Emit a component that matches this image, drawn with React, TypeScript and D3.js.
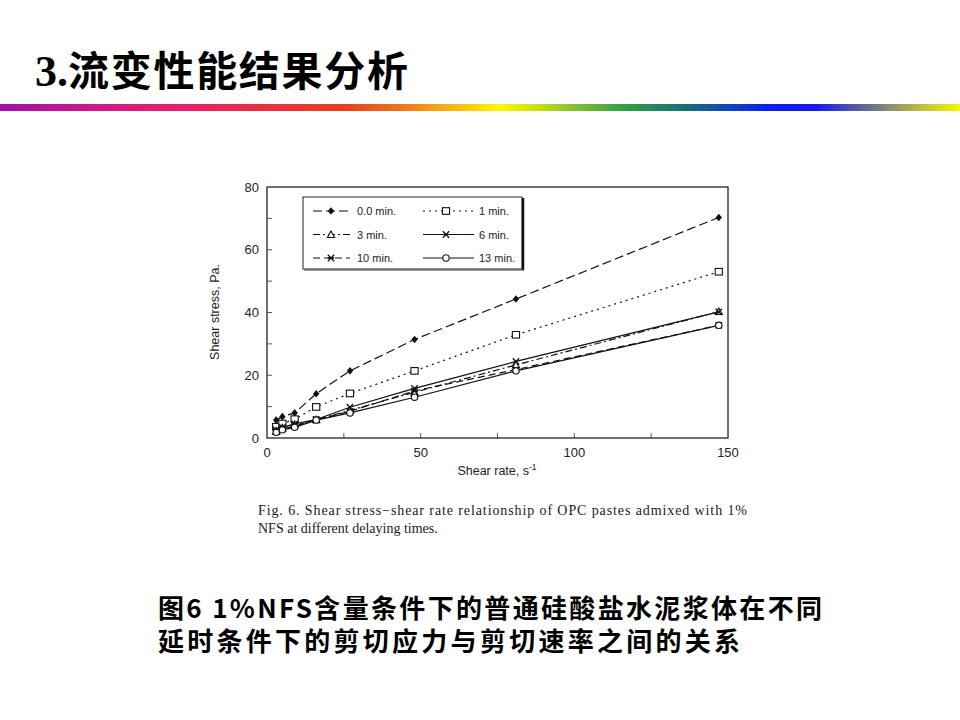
import React from "react";
import * as d3 from "d3";

const shearRate = [3, 5, 9, 16, 27, 48, 81, 147];
const min0 = [5.7, 6.8, 8.0, 14.1, 21.4, 31.4, 44.3, 70.3];
const min1 = [3.6, 4.6, 6.0, 9.9, 14.2, 21.4, 32.9, 53.0];
const min3 = [2.2, 3.2, 4.3, 5.8, 8.8, 14.6, 23.3, 40.3];
const min6 = [2.6, 3.4, 4.5, 5.9, 9.8, 15.8, 24.4, 40.2];
const min10 = [2.0, 2.9, 3.8, 5.8, 8.5, 15.0, 21.8, 35.9];
const min13 = [1.8, 2.6, 3.4, 5.7, 8.0, 13.0, 21.4, 35.9];
const seriesNames = ["0.0 min.", "1 min.", "3 min.", "6 min.", "10 min.", "13 min."];
const xTicks = [0, 50, 100, 150];
const xMinorTicks = [25, 50, 75, 100, 125];
const yTicks = [0, 20, 40, 60, 80];
const yMinorTicks = [10, 20, 30, 40, 50, 60, 70];

const W = 960;
const H = 720;
const plot = { left: 267, right: 728, top: 187, bottom: 438 };

const styles = [
  { dash: "9,4", marker: "diamond" },
  { dash: "2,4", marker: "square" },
  { dash: "7,3,2,3", marker: "triangle" },
  { dash: "", marker: "x" },
  { dash: "7,4", marker: "star" },
  { dash: "", marker: "circle" },
];

function Marker({ type, x, y }: { type: string; x: number; y: number }) {
  const s = 3.2;
  switch (type) {
    case "diamond":
      return <path d={`M${x},${y - 3.8}L${x + 3.2},${y}L${x},${y + 3.8}L${x - 3.2},${y}Z`} fill="#111" />;
    case "square":
      return <rect x={x - 3.6} y={y - 3.3} width={7.2} height={6.6} fill="#fff" stroke="#111" strokeWidth={1.1} />;
    case "triangle":
      return <path d={`M${x},${y - 3.6}L${x + 3.6},${y + 3}L${x - 3.6},${y + 3}Z`} fill="#fff" stroke="#111" strokeWidth={1.1} />;
    case "x":
      return <path d={`M${x - s},${y - s}L${x + s},${y + s}M${x - s},${y + s}L${x + s},${y - s}`} stroke="#111" strokeWidth={1.3} />;
    case "star":
      return (
        <g stroke="#111" strokeWidth={1.3}>
          <path d={`M${x - s},${y - s}L${x + s},${y + s}M${x - s},${y + s}L${x + s},${y - s}M${x - s},${y}L${x + s},${y}`} />
        </g>
      );
    case "circle":
      return <circle cx={x} cy={y} r={3.2} fill="#fff" stroke="#111" strokeWidth={1.1} />;
  }
  return null;
}

export default function App() {
  const x = d3.scaleLinear().domain([0, 150]).range([plot.left, plot.right]);
  const y = d3.scaleLinear().domain([0, 80]).range([plot.bottom, plot.top]);
  const all = [min0, min1, min3, min6, min10, min13];
  const line = d3
    .line<number>()
    .x((_, i) => x(shearRate[i]))
    .y((d) => y(d));

  const gradStops = [
    [0, "#a010a8"],
    [0.1, "#d01888"],
    [0.2, "#e82068"],
    [0.28, "#e83040"],
    [0.36, "#e84020"],
    [0.42, "#f07818"],
    [0.48, "#f8c010"],
    [0.52, "#f8f800"],
    [0.56, "#c8e010"],
    [0.6, "#80c030"],
    [0.65, "#30a040"],
    [0.72, "#186880"],
    [0.8, "#0c20f0"],
    [0.85, "#1818f0"],
    [0.9, "#606890"],
    [0.95, "#b0b050"],
    [1, "#f8f800"],
  ];

  const legendItems = seriesNames.map((name, i) => {
    const col = i % 2;
    const row = Math.floor(i / 2);
    return { name, i, col, row };
  });

  return (
    <svg width={W} height={H} style={{ position: "absolute", left: 0, top: 0, display: "block", background: "#fff" }}>
      <defs>
        <linearGradient id="bar" x1="0" x2="1" y1="0" y2="0">
          {gradStops.map(([o, c], i) => (
            <stop key={i} offset={o as number} stopColor={c as string} />
          ))}
        </linearGradient>
      </defs>
      <rect width={W} height={H} fill="#fff" />
      {/* title */}
      <text x={35} y={86} fontFamily="'Liberation Serif', serif" fontWeight="bold" fontSize={44} fill="#000">
        3.
      </text>
      <text
        x={68}
        y={86}
        fontFamily="'Noto Sans CJK SC', sans-serif"
        fontWeight="bold"
        fontSize={41}
        fill="#000"
        textLength={340}
        lengthAdjust="spacing"
      >
        流变性能结果分析
      </text>
      <rect x={0} y={104} width={W} height={7} fill="url(#bar)" />

      {/* plot frame */}
      <rect
        x={plot.left}
        y={plot.top}
        width={plot.right - plot.left}
        height={plot.bottom - plot.top}
        fill="none"
        stroke="#111"
        strokeWidth={1.2}
      />
      {yMinorTicks.map((t) => (
        <line key={"ym" + t} x1={plot.left} x2={plot.left + 5} y1={y(t)} y2={y(t)} stroke="#333" strokeWidth={0.8} />
      ))}
      {xMinorTicks.map((t) => (
        <line key={"xm" + t} x1={x(t)} x2={x(t)} y1={plot.bottom} y2={plot.bottom - 5} stroke="#333" strokeWidth={0.8} />
      ))}
      {yTicks.map((t) => (
        <text
          key={"yt" + t}
          x={plot.left - 8}
          y={y(t) + 4.5}
          textAnchor="end"
          fontFamily="'Liberation Sans', Arial, sans-serif"
          fontSize={13}
          fill="#222"
        >
          {t}
        </text>
      ))}
      {xTicks.map((t) => (
        <text
          key={"xt" + t}
          x={x(t)}
          y={457}
          textAnchor="middle"
          fontFamily="'Liberation Sans', Arial, sans-serif"
          fontSize={13}
          fill="#222"
        >
          {t}
        </text>
      ))}
      <text
        x={497}
        y={475}
        textAnchor="middle"
        fontFamily="'Liberation Sans', Arial, sans-serif"
        fontSize={12.5}
        fill="#222"
      >
        Shear rate, s
        <tspan fontSize={8.5} dy={-5}>
          -1
        </tspan>
      </text>
      <text
        transform={`translate(219,312) rotate(-90)`}
        textAnchor="middle"
        fontFamily="'Liberation Sans', Arial, sans-serif"
        fontSize={12.5}
        fill="#222"
      >
        Shear stress, Pa.
      </text>

      {/* series */}
      {all.map((vals, si) => (
        <g key={"s" + si}>
          <path d={line(vals) || ""} fill="none" stroke="#111" strokeWidth={1.2} strokeDasharray={styles[si].dash} />
          {vals.map((v, i) => (
            <Marker key={i} type={styles[si].marker} x={x(shearRate[i])} y={y(v)} />
          ))}
        </g>
      ))}

      {/* legend */}
      <rect x={303} y={197} width={219} height={72} fill="#fff" stroke="#222" strokeWidth={1} />
      <line x1={523} x2={523} y1={198} y2={270} stroke="#111" strokeWidth={2.5} />
      <line x1={304} x2={524} y1={270} y2={270} stroke="#444" strokeWidth={1.2} />
      {legendItems.map((it) => {
        const ly = 211 + it.row * 23.5;
        const lx0 = it.col === 0 ? 313 : 423;
        const lx1 = it.col === 0 ? 350 : 474;
        const mx = it.col === 0 ? 331 : 446;
        const tx = it.col === 0 ? 357 : 479;
        return (
          <g key={"lg" + it.i}>
            <line x1={lx0} x2={lx1} y1={ly} y2={ly} stroke="#111" strokeWidth={1.2} strokeDasharray={styles[it.i].dash} />
            <Marker type={styles[it.i].marker} x={mx} y={ly} />
            <text x={tx} y={ly + 4} fontFamily="'Liberation Sans', Arial, sans-serif" fontSize={11} fill="#222">
              {it.name}
            </text>
          </g>
        );
      })}

      {/* figure caption */}
      <text
        x={258}
        y={515}
        fontFamily="'Liberation Serif', serif"
        fontSize={14}
        fill="#1a1a1a"
        textLength={489}
        lengthAdjust="spacing"
      >
        Fig. 6. Shear stress−shear rate relationship of OPC pastes admixed with 1%
      </text>
      <text x={258} y={533} fontFamily="'Liberation Serif', serif" fontSize={14} fill="#1a1a1a">
        NFS at different delaying times.
      </text>

      {/* Chinese caption */}
      <text
        x={158}
        y={618}
        fontFamily="'Noto Sans CJK SC', sans-serif"
        fontWeight="bold"
        fontSize={26}
        fill="#000"
        textLength={664}
        lengthAdjust="spacing"
      >
        图6 1%NFS含量条件下的普通硅酸盐水泥浆体在不同
      </text>
      <text
        x={158}
        y={651}
        fontFamily="'Noto Sans CJK SC', sans-serif"
        fontWeight="bold"
        fontSize={26}
        fill="#000"
        textLength={582}
        lengthAdjust="spacing"
      >
        延时条件下的剪切应力与剪切速率之间的关系
      </text>
    </svg>
  );
}
